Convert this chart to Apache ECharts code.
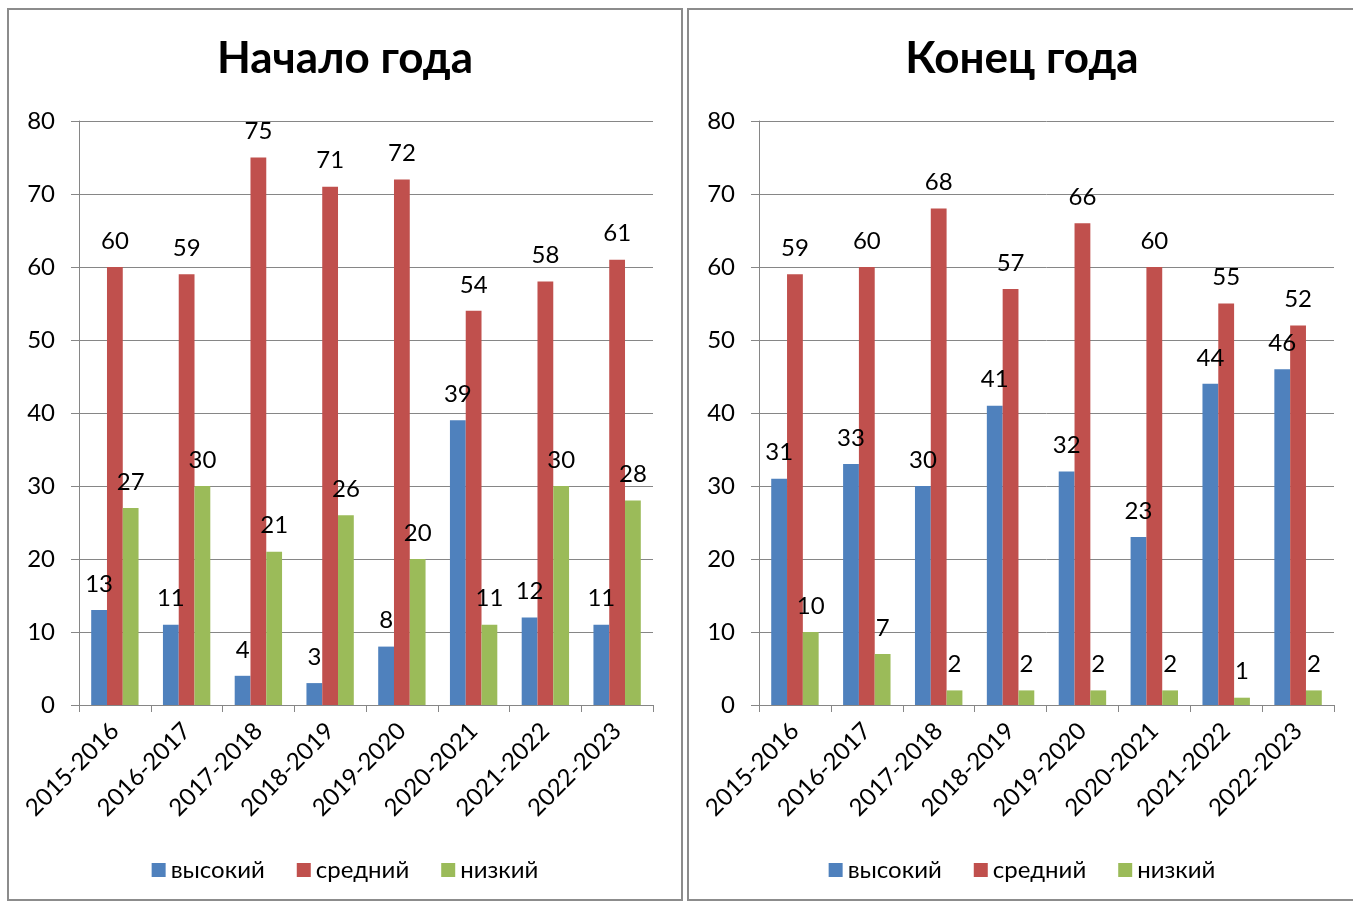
<!DOCTYPE html>
<html><head><meta charset="utf-8">
<script src="https://cdn.jsdelivr.net/npm/echarts@6/dist/echarts.min.js"></script>
<style>
html,body{margin:0;padding:0;background:#fff;width:1353px;height:901px;overflow:hidden;}
.panel{position:absolute;box-sizing:border-box;border:2px solid #8c8c8c;background:#fff;}
</style></head>
<body>
<div id="c1" class="panel" style="left:7px;top:8px;width:676px;height:893px;"></div>
<div id="c2" class="panel" style="left:687px;top:8px;width:670px;height:893px;"></div>
<script>
const categories = ['2015-2016','2016-2017','2017-2018','2018-2019','2019-2020','2020-2021','2021-2022','2022-2023'];
const seriesNames = ['высокий','средний','низкий'];
const startHigh = [13,11,4,3,8,39,12,11];
const startMid  = [60,59,75,71,72,54,58,61];
const startLow  = [27,30,21,26,20,11,30,28];
const endHigh = [31,33,30,41,32,23,44,46];
const endMid  = [59,60,68,57,66,60,55,52];
const endLow  = [10,7,2,2,2,2,1,2];
const titles = ['Начало года','Конец года'];
const colors = ['#4F81BD','#C0504D','#9BBB59'];
const FONT = 'Lato';

function makeOption(title, data, gridLeft, gridWidth){
  return {
    animation:false,
    color: colors,
    textStyle:{fontFamily:FONT},
    title:{text:title,left:'center',top:22,textStyle:{fontFamily:FONT,fontSize:44,fontWeight:'bold',color:'#000'}},
    legend:{bottom:12,left:'center',itemWidth:14,itemHeight:14,itemGap:32,icon:'rect',
      textStyle:{fontFamily:FONT,fontSize:24,color:'#000'},data:seriesNames},
    grid:{left:gridLeft,top:111,width:gridWidth,height:584,containLabel:false},
    xAxis:{type:'category',data:categories,
      axisLine:{lineStyle:{color:'#868686',width:1}},
      axisTick:{show:true,alignWithLabel:false,length:7,lineStyle:{color:'#868686'}},
      axisLabel:{rotate:45,fontFamily:FONT,fontSize:24,color:'#000',margin:22,interval:0}},
    yAxis:{type:'value',min:0,max:80,interval:10,
      axisLine:{show:true,lineStyle:{color:'#868686',width:1}},
      axisTick:{show:true,length:8,lineStyle:{color:'#868686'}},
      splitLine:{lineStyle:{color:'#868686',width:1}},
      axisLabel:{fontFamily:FONT,fontSize:24,color:'#000',margin:24}},
    series: data.map((d,i)=>({name:seriesNames[i],type:'bar',data:d,barGap:'0%',barCategoryGap:'34%',
      label:{show:true,position:'top',distance:14,fontFamily:FONT,fontSize:24,color:'#000'}}))
  };
}
const ch1 = echarts.init(document.getElementById('c1'));
ch1.setOption(makeOption(titles[0],[startHigh,startMid,startLow],70,574));
const ch2 = echarts.init(document.getElementById('c2'));
ch2.setOption(makeOption(titles[1],[endHigh,endMid,endLow],70,575));
</script>
</body></html>
